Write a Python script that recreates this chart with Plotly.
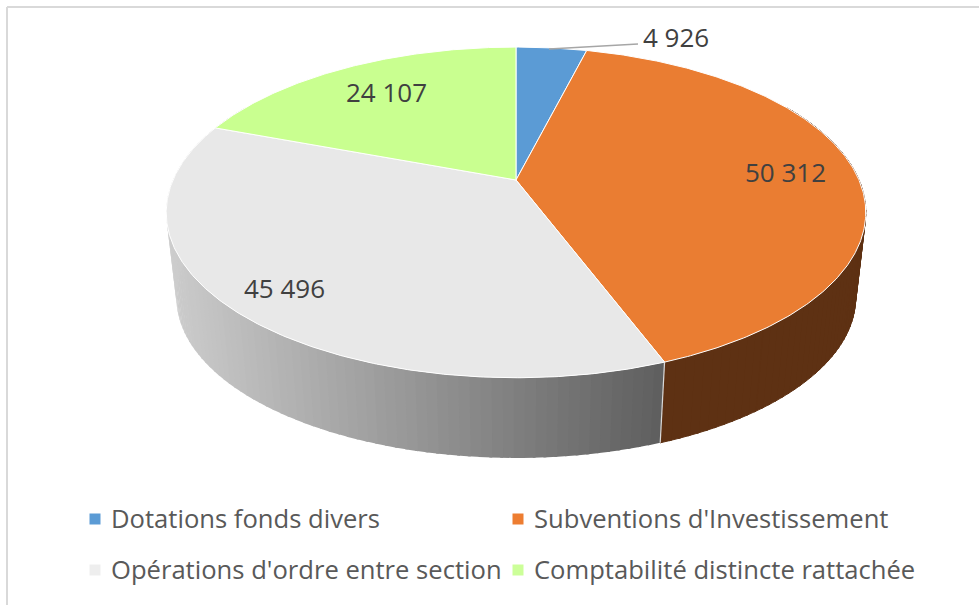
import numpy as np
import plotly.graph_objects as go

categories = ["Dotations fonds divers", "Subventions d'Investissement",
              "Opérations d'ordre entre section", "Comptabilité distincte rattachée"]
values = [4926, 50312, 45496, 24107]
top_colors = ["#5b9bd5", "#ea7d32", "#e8e8e8", "#c9ff90"]
side_color = "#5e3113"
legend_colors = ["#5b9bd5", "#ed7d31", "#eeeeee", "#ccff99"]
label_radii = [None, 0.79, 0.85, 0.75]

W, H = 979, 605
CX, TOP_Y0, TOP_A, TOP_B = 516, 180, 159, 343
BOT_Y0, BOT_A, BOT_B = 266.4, 154, 333
K = 0.196


def project(theta_deg, r=1.0, top=True):
    t = np.radians(np.asarray(theta_deg, dtype=float))
    X, Y = r * np.sin(t), -r * np.cos(t)
    d = 1 - K * Y
    if top:
        return CX + TOP_B * X / d, TOP_Y0 + TOP_A * Y / d
    return CX + BOT_B * X / d, BOT_Y0 + BOT_A * Y / d


def arc(a, b, step=0.5):
    n = max(2, int(abs(b - a) / step) + 1)
    return np.linspace(a, b, n)


total = sum(values)
edges = np.concatenate([[0], np.cumsum(values) / total * 360])

fig = go.Figure()


def poly(xs, ys, fill, line=None, lw=0.6):
    fig.add_trace(go.Scatter(x=list(xs), y=list(ys), mode="lines", fill="toself",
                             fillcolor=fill, line=dict(color=line or fill, width=lw),
                             hoverinfo="skip", showlegend=False))


# side walls (behind the top faces), built from thin bands so the outline is the true hull
a1, a2 = edges[1], edges[2]
STEP = 1.5
for s in np.arange(60, a2, STEP):
    ang = arc(s, min(s + STEP + 0.4, a2), 0.5)
    tx, ty = project(ang)
    bx, by = project(ang, top=False)
    poly(np.r_[tx, bx[::-1], tx[0]], np.r_[ty, by[::-1], ty[0]], side_color, lw=1)

a3 = 300
for s in np.arange(a2, a3, STEP):
    ang = arc(s, min(s + STEP + 0.4, a3), 0.5)
    tx, ty = project(ang)
    bx, by = project(ang, top=False)
    mid = (tx.mean() + bx.mean()) / 2
    f = np.clip((mid - 172) / (662 - 172), 0, 1)
    g = int(round(204 + (94 - 204) * f))
    poly(np.r_[tx, bx[::-1], tx[0]], np.r_[ty, by[::-1], ty[0]], f"rgb({g},{g},{g})", lw=0)

# seam between the two visible side walls
sx0, sy0 = project(a2)
sx1, sy1 = project(a2, top=False)
fig.add_trace(go.Scatter(x=[sx0, sx1], y=[sy0, sy1], mode="lines",
                         line=dict(color="#d9d9d9", width=1.2), hoverinfo="skip", showlegend=False))

# top faces
for i in range(4):
    ang = arc(edges[i], edges[i + 1])
    x, y = project(ang)
    cx0, cy0 = project(0, r=0)
    poly(np.r_[cx0, x, cx0], np.r_[cy0, y, cy0], top_colors[i], line="#ffffff", lw=1)

# leader line for the small slice
fig.add_trace(go.Scatter(x=[549, 638], y=[49, 44], mode="lines",
                         line=dict(color="#a6a6a6", width=1.5), hoverinfo="skip", showlegend=False))


def fmt(v):
    return f"{v:,}".replace(",", " ")


annotations = [dict(x=676, y=37, text=fmt(values[0]))]
for i in range(1, 4):
    m = (edges[i] + edges[i + 1]) / 2
    x, y = project(m, r=label_radii[i])
    annotations.append(dict(x=float(x) + 1.5, y=float(y) - 1, text=fmt(values[i])))
for a in annotations:
    a.update(xref="x", yref="y", showarrow=False, xanchor="center", yanchor="middle",
             font=dict(family="Open Sans", size=26, color="#404040"))

# legend
leg_x = [95, 518, 95, 518]
leg_y = [519, 519, 570, 570]
for i, c in enumerate(categories):
    fig.add_trace(go.Scatter(x=[leg_x[i]], y=[leg_y[i]], mode="markers", name=c,
                             marker=dict(symbol="square", size=11, color=legend_colors[i]),
                             hoverinfo="skip", showlegend=False))
    annotations.append(dict(x=leg_x[i] + 14, y=leg_y[i] - 1, text=c, xref="x", yref="y", showarrow=False,
                            xanchor="left", yanchor="middle",
                            font=dict(family="Open Sans", size=25.6, color="#595959")))

shapes = [
    dict(type="line", xref="x", yref="y", x0=7, x1=W, y0=7, y1=7, line=dict(color="#d9d9d9", width=2)),
    dict(type="line", xref="x", yref="y", x0=7, x1=7, y0=7, y1=H, line=dict(color="#d9d9d9", width=2)),
]

fig.update_layout(
    width=W, height=H, margin=dict(l=0, r=0, t=0, b=0),
    paper_bgcolor="white", plot_bgcolor="white", showlegend=False,
    xaxis=dict(range=[0, W], visible=False, fixedrange=True),
    yaxis=dict(range=[H, 0], visible=False, fixedrange=True),
    annotations=annotations, shapes=shapes,
)
fig.write_html("out.html", config={"displayModeBar": False},
               post_script="document.body.style.margin='0';document.documentElement.style.overflow='hidden';")
